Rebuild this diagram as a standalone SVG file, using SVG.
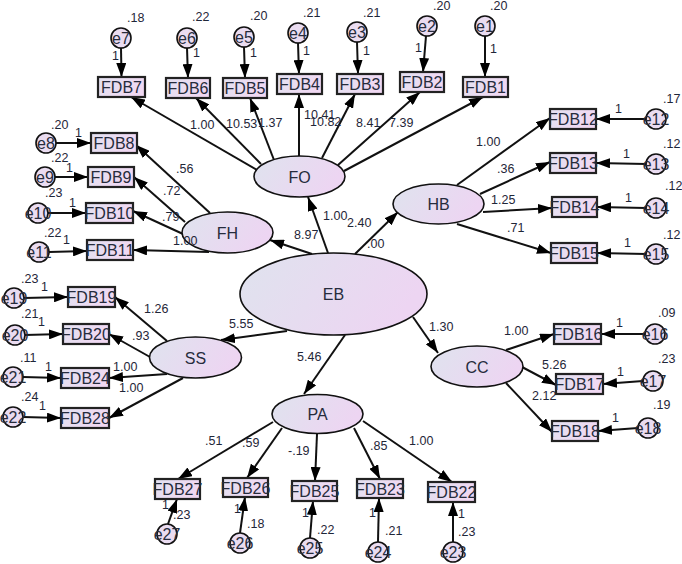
<svg xmlns="http://www.w3.org/2000/svg" width="682" height="564" viewBox="0 0 682 564">
<defs>
  <linearGradient id="latentFill" x1="0" y1="0" x2="1" y2="0.3">
    <stop offset="0" stop-color="#dfe3ee"/>
    <stop offset="1" stop-color="#edd5f2"/>
  </linearGradient>
  <linearGradient id="boxFill" x1="0" y1="0" x2="1" y2="0.3">
    <stop offset="0" stop-color="#e3e1f0"/>
    <stop offset="1" stop-color="#f0d8f2"/>
  </linearGradient>
  <marker id="arrow" markerUnits="userSpaceOnUse" markerWidth="15" markerHeight="10" refX="14" refY="5" orient="auto">
    <path d="M0,0 L14,5 L0,10 z" fill="#000"/>
  </marker>
</defs>
<style>
  .edge { stroke:#111; stroke-width:2; fill:none; marker-end:url(#arrow); }
  .lat ellipse { fill:url(#latentFill); stroke:#111; stroke-width:1.6; }
  .obs rect { fill:url(#boxFill); stroke:#222; stroke-width:2.2; }
  .err circle { fill:#eadcf1; stroke:#111; stroke-width:1.6; }
  text { font-family:"Liberation Sans", Arial, sans-serif; fill:#262c3c; }
  .lbl { font-size:16px; text-anchor:middle; }
  .num { font-size:12.5px; }
  .num text { fill:#1f2638; }
</style>
<rect width="682" height="564" fill="#fff"/>

<g id="connectors">
  <!-- error terms to indicators -->
  <line class="edge" x1="121" y1="48" x2="121.5" y2="77"/>
  <line class="edge" x1="187" y1="48" x2="188" y2="78"/>
  <line class="edge" x1="244" y1="47" x2="245" y2="78"/>
  <line class="edge" x1="298" y1="43" x2="299" y2="74"/>
  <line class="edge" x1="357" y1="42" x2="358" y2="74"/>
  <line class="edge" x1="426" y1="36" x2="423" y2="72"/>
  <line class="edge" x1="485" y1="36" x2="485" y2="77"/>
  <line class="edge" x1="56" y1="143" x2="91" y2="143"/>
  <line class="edge" x1="55" y1="177" x2="88" y2="177"/>
  <line class="edge" x1="48" y1="213" x2="86" y2="213"/>
  <line class="edge" x1="49" y1="252" x2="87" y2="251"/>
  <line class="edge" x1="646" y1="119" x2="596" y2="119"/>
  <line class="edge" x1="646" y1="164" x2="596" y2="163"/>
  <line class="edge" x1="646" y1="208" x2="597" y2="207"/>
  <line class="edge" x1="646" y1="254" x2="597" y2="253"/>
  <line class="edge" x1="645" y1="334" x2="601" y2="334"/>
  <line class="edge" x1="643" y1="381" x2="603" y2="384"/>
  <line class="edge" x1="638" y1="428" x2="598" y2="431"/>
  <line class="edge" x1="24" y1="298" x2="68" y2="297"/>
  <line class="edge" x1="25" y1="335" x2="63" y2="334"/>
  <line class="edge" x1="23" y1="377" x2="61" y2="378"/>
  <line class="edge" x1="23" y1="417" x2="61" y2="418"/>
  <line class="edge" x1="168" y1="524" x2="177" y2="499"/>
  <line class="edge" x1="240" y1="533" x2="245" y2="497"/>
  <line class="edge" x1="310" y1="538" x2="313" y2="501"/>
  <line class="edge" x1="378" y1="542" x2="379" y2="498"/>
  <line class="edge" x1="453" y1="542" x2="453" y2="502"/>
  <!-- FO loadings -->
  <line class="edge" x1="257" y1="170" x2="131" y2="97"/>
  <line class="edge" x1="261" y1="164" x2="196" y2="98"/>
  <line class="edge" x1="274" y1="160" x2="250" y2="98"/>
  <line class="edge" x1="299" y1="156" x2="299" y2="94"/>
  <line class="edge" x1="322" y1="158" x2="355" y2="94"/>
  <line class="edge" x1="338" y1="165" x2="420" y2="92"/>
  <line class="edge" x1="344" y1="171" x2="483" y2="97"/>
  <!-- FH loadings -->
  <line class="edge" x1="210" y1="213" x2="136" y2="145"/>
  <line class="edge" x1="185" y1="222" x2="134" y2="177"/>
  <line class="edge" x1="183" y1="234" x2="133" y2="211"/>
  <line class="edge" x1="209" y1="252" x2="133" y2="250"/>
  <!-- HB loadings -->
  <line class="edge" x1="457" y1="185" x2="550" y2="118"/>
  <line class="edge" x1="480" y1="194" x2="550" y2="162"/>
  <line class="edge" x1="483" y1="212" x2="552" y2="208"/>
  <line class="edge" x1="457" y1="224" x2="551" y2="253"/>
  <!-- SS loadings -->
  <line class="edge" x1="167" y1="341" x2="115" y2="297"/>
  <line class="edge" x1="150" y1="357" x2="109" y2="334"/>
  <line class="edge" x1="167" y1="374" x2="109" y2="378"/>
  <line class="edge" x1="183" y1="378" x2="109" y2="418"/>
  <!-- CC loadings -->
  <line class="edge" x1="506" y1="350" x2="554" y2="334"/>
  <line class="edge" x1="522" y1="367" x2="556" y2="385"/>
  <line class="edge" x1="506" y1="383" x2="552" y2="432"/>
  <!-- PA loadings -->
  <line class="edge" x1="273" y1="422" x2="178" y2="479"/>
  <line class="edge" x1="282" y1="428" x2="247" y2="478"/>
  <line class="edge" x1="317" y1="434" x2="315" y2="481"/>
  <line class="edge" x1="354" y1="428" x2="380" y2="479"/>
  <line class="edge" x1="363" y1="421" x2="452" y2="482"/>
  <!-- EB structural paths -->
  <line class="edge" x1="328" y1="253" x2="308" y2="197"/>
  <line class="edge" x1="312" y1="254" x2="270" y2="240"/>
  <line class="edge" x1="355" y1="254" x2="398" y2="212"/>
  <line class="edge" x1="287" y1="331" x2="221" y2="340"/>
  <line class="edge" x1="345" y1="335" x2="304" y2="394"/>
  <line class="edge" x1="413" y1="317" x2="438" y2="353"/>
</g>

<!-- latent variables -->
<g id="EB" class="lat"><ellipse cx="333.5" cy="294" rx="93.5" ry="41"/><text class="lbl" x="333.5" y="300">EB</text></g>
<g id="FO" class="lat"><ellipse cx="299.5" cy="176.5" rx="45.5" ry="20.5"/><text class="lbl" x="299.5" y="182.5">FO</text></g>
<g id="HB" class="lat"><ellipse cx="438.5" cy="204" rx="45.5" ry="20"/><text class="lbl" x="438.5" y="210">HB</text></g>
<g id="FH" class="lat"><ellipse cx="227.5" cy="232.5" rx="45.5" ry="20.5"/><text class="lbl" x="227.5" y="238.5">FH</text></g>
<g id="SS" class="lat"><ellipse cx="195.5" cy="357.5" rx="46" ry="20.5"/><text class="lbl" x="195.5" y="363.5">SS</text></g>
<g id="CC" class="lat"><ellipse cx="477" cy="366.5" rx="46" ry="20.5"/><text class="lbl" x="477" y="372.5">CC</text></g>
<g id="PA" class="lat"><ellipse cx="317.5" cy="414" rx="45.5" ry="19.5"/><text class="lbl" x="317.5" y="420">PA</text></g>

<!-- observed indicators -->
<g id="FDB7" class="obs"><rect x="98" y="77" width="47" height="20"/><text class="lbl" x="121.5" y="93">FDB7</text></g>
<g id="FDB6" class="obs"><rect x="166" y="78" width="44" height="20"/><text class="lbl" x="188" y="94">FDB6</text></g>
<g id="FDB5" class="obs"><rect x="223" y="78" width="44" height="20"/><text class="lbl" x="245" y="94">FDB5</text></g>
<g id="FDB4" class="obs"><rect x="277" y="74" width="45" height="20"/><text class="lbl" x="299.5" y="90">FDB4</text></g>
<g id="FDB3" class="obs"><rect x="337" y="74" width="46" height="20"/><text class="lbl" x="360" y="90">FDB3</text></g>
<g id="FDB2" class="obs"><rect x="400" y="72" width="44" height="20"/><text class="lbl" x="422" y="88">FDB2</text></g>
<g id="FDB1" class="obs"><rect x="463" y="77" width="45" height="20"/><text class="lbl" x="485.5" y="93">FDB1</text></g>
<g id="FDB8" class="obs"><rect x="91" y="133" width="46" height="20"/><text class="lbl" x="114" y="149">FDB8</text></g>
<g id="FDB9" class="obs"><rect x="88" y="167" width="46" height="20"/><text class="lbl" x="111" y="183">FDB9</text></g>
<g id="FDB10" class="obs"><rect x="86" y="203" width="47" height="20"/><text class="lbl" x="109.5" y="219">FDB10</text></g>
<g id="FDB11" class="obs"><rect x="87" y="240" width="46" height="20"/><text class="lbl" x="110" y="256">FDB11</text></g>
<g id="FDB12" class="obs"><rect x="550" y="109" width="46" height="20"/><text class="lbl" x="573" y="125">FDB12</text></g>
<g id="FDB13" class="obs"><rect x="550" y="153" width="46" height="20"/><text class="lbl" x="573" y="169">FDB13</text></g>
<g id="FDB14" class="obs"><rect x="552" y="197" width="45" height="20"/><text class="lbl" x="574.5" y="213">FDB14</text></g>
<g id="FDB15" class="obs"><rect x="551" y="243" width="46" height="20"/><text class="lbl" x="574" y="259">FDB15</text></g>
<g id="FDB16" class="obs"><rect x="554" y="324" width="47" height="20"/><text class="lbl" x="577.5" y="340">FDB16</text></g>
<g id="FDB17" class="obs"><rect x="556" y="374" width="47" height="20"/><text class="lbl" x="579.5" y="390">FDB17</text></g>
<g id="FDB18" class="obs"><rect x="552" y="421" width="46" height="20"/><text class="lbl" x="575" y="437">FDB18</text></g>
<g id="FDB19" class="obs"><rect x="68" y="287" width="47" height="20"/><text class="lbl" x="91.5" y="303">FDB19</text></g>
<g id="FDB20" class="obs"><rect x="63" y="324" width="46" height="20"/><text class="lbl" x="86" y="340">FDB20</text></g>
<g id="FDB24" class="obs"><rect x="61" y="368" width="48" height="20"/><text class="lbl" x="85" y="384">FDB24</text></g>
<g id="FDB28" class="obs"><rect x="61" y="408" width="48" height="20"/><text class="lbl" x="85" y="424">FDB28</text></g>
<g id="FDB27" class="obs"><rect x="155" y="479" width="45" height="20"/><text class="lbl" x="177.5" y="495">FDB27</text></g>
<g id="FDB26" class="obs"><rect x="223" y="478" width="45" height="19"/><text class="lbl" x="245.5" y="494">FDB26</text></g>
<g id="FDB25" class="obs"><rect x="292" y="481" width="45" height="20"/><text class="lbl" x="314.5" y="497">FDB25</text></g>
<g id="FDB23" class="obs"><rect x="357" y="479" width="46" height="19"/><text class="lbl" x="380" y="495">FDB23</text></g>
<g id="FDB22" class="obs"><rect x="428" y="482" width="47" height="20"/><text class="lbl" x="451.5" y="498">FDB22</text></g>

<!-- error terms -->
<g id="e7" class="err"><circle cx="121" cy="38" r="10"/><text class="lbl" x="121" y="44">e7</text></g>
<g id="e6" class="err"><circle cx="187" cy="38" r="10"/><text class="lbl" x="187" y="44">e6</text></g>
<g id="e5" class="err"><circle cx="244" cy="37" r="10"/><text class="lbl" x="244" y="43">e5</text></g>
<g id="e4" class="err"><circle cx="298" cy="33" r="10"/><text class="lbl" x="298" y="39">e4</text></g>
<g id="e3" class="err"><circle cx="357" cy="32" r="10"/><text class="lbl" x="357" y="38">e3</text></g>
<g id="e2" class="err"><circle cx="427" cy="26" r="10"/><text class="lbl" x="427" y="32">e2</text></g>
<g id="e1" class="err"><circle cx="485" cy="26" r="10"/><text class="lbl" x="485" y="32">e1</text></g>
<g id="e8" class="err"><circle cx="46" cy="143" r="10"/><text class="lbl" x="46" y="149">e8</text></g>
<g id="e9" class="err"><circle cx="45" cy="177" r="10"/><text class="lbl" x="45" y="183">e9</text></g>
<g id="e10" class="err"><circle cx="38" cy="213" r="10"/><text class="lbl" x="38" y="219">e10</text></g>
<g id="e11" class="err"><circle cx="39" cy="252" r="10"/><text class="lbl" x="39" y="258">e11</text></g>
<g id="e12" class="err"><circle cx="656" cy="119" r="10"/><text class="lbl" x="656" y="125">e12</text></g>
<g id="e13" class="err"><circle cx="656" cy="164" r="10"/><text class="lbl" x="656" y="170">e13</text></g>
<g id="e14" class="err"><circle cx="656" cy="208" r="10"/><text class="lbl" x="656" y="214">e14</text></g>
<g id="e15" class="err"><circle cx="656" cy="254" r="10"/><text class="lbl" x="656" y="260">e15</text></g>
<g id="e16" class="err"><circle cx="655" cy="334" r="10"/><text class="lbl" x="655" y="340">e16</text></g>
<g id="e17" class="err"><circle cx="653" cy="381" r="10"/><text class="lbl" x="653" y="387">e17</text></g>
<g id="e18" class="err"><circle cx="648" cy="428" r="10"/><text class="lbl" x="648" y="434">e18</text></g>
<g id="e19" class="err"><circle cx="14" cy="298" r="10"/><text class="lbl" x="14" y="304">e19</text></g>
<g id="e20" class="err"><circle cx="15" cy="335" r="10"/><text class="lbl" x="15" y="341">e20</text></g>
<g id="e21" class="err"><circle cx="13" cy="377" r="10"/><text class="lbl" x="13" y="383">e21</text></g>
<g id="e22" class="err"><circle cx="13" cy="417" r="10"/><text class="lbl" x="13" y="423">e22</text></g>
<g id="e27" class="err"><circle cx="167" cy="534" r="10"/><text class="lbl" x="167" y="540">e27</text></g>
<g id="e26" class="err"><circle cx="240" cy="543" r="10"/><text class="lbl" x="240" y="549">e26</text></g>
<g id="e25" class="err"><circle cx="310" cy="548" r="10"/><text class="lbl" x="310" y="554">e25</text></g>
<g id="e24" class="err"><circle cx="378" cy="552" r="10"/><text class="lbl" x="378" y="558">e24</text></g>
<g id="e23" class="err"><circle cx="453" cy="552" r="10"/><text class="lbl" x="453" y="558">e23</text></g>

<!-- estimates on paths, drawn above the shapes -->
<g id="path-values" class="num">
  <text x="190" y="129">1.00</text>
  <text x="226" y="128">10.53</text>
  <text x="258" y="127">1.37</text>
  <text x="304" y="119">10.41</text>
  <text x="310" y="126">10.82</text>
  <text x="356" y="127">8.41</text>
  <text x="389" y="127">7.39</text>
  <text x="176" y="173">.56</text>
  <text x="163" y="195">.72</text>
  <text x="162" y="221">.79</text>
  <text x="173" y="245">1.00</text>
  <text x="294" y="239">8.97</text>
  <text x="323" y="220">1.00</text>
  <text x="347" y="227">2.40</text>
  <text x="367" y="248">.00</text>
  <text x="476" y="146">1.00</text>
  <text x="497" y="173">.36</text>
  <text x="491" y="204">1.25</text>
  <text x="507" y="232">.71</text>
  <text x="429" y="331">1.30</text>
  <text x="504" y="335">1.00</text>
  <text x="542" y="369">5.26</text>
  <text x="532" y="400">2.12</text>
  <text x="144" y="313">1.26</text>
  <text x="132" y="340">.93</text>
  <text x="113" y="371">1.00</text>
  <text x="119" y="392">1.00</text>
  <text x="229" y="328">5.55</text>
  <text x="297" y="361">5.46</text>
  <text x="205" y="445">.51</text>
  <text x="242" y="447">.59</text>
  <text x="288" y="455">-.19</text>
  <text x="370" y="450">.85</text>
  <text x="409" y="445">1.00</text>
  <!-- fixed error weights -->
  <text x="112" y="60">1</text>
  <text x="193" y="57">1</text>
  <text x="250" y="57">1</text>
  <text x="303" y="55">1</text>
  <text x="363" y="55">1</text>
  <text x="415" y="52">1</text>
  <text x="490" y="53">1</text>
  <text x="75" y="137">1</text>
  <text x="66" y="172">1</text>
  <text x="69" y="207">1</text>
  <text x="63" y="244">1</text>
  <text x="615" y="113">1</text>
  <text x="623" y="158">1</text>
  <text x="625" y="202">1</text>
  <text x="624" y="247">1</text>
  <text x="616" y="327">1</text>
  <text x="617" y="376">1</text>
  <text x="612" y="422">1</text>
  <text x="41" y="291">1</text>
  <text x="38" y="326">1</text>
  <text x="45" y="371">1</text>
  <text x="39" y="410">1</text>
  <text x="162" y="509">1</text>
  <text x="234" y="513">1</text>
  <text x="302" y="517">1</text>
  <text x="369" y="517">1</text>
  <text x="458" y="518">1</text>
  <!-- error variances -->
  <text x="127" y="22">.18</text>
  <text x="192" y="21">.22</text>
  <text x="250" y="20">.20</text>
  <text x="303" y="17">.21</text>
  <text x="363" y="17">.21</text>
  <text x="433" y="10">.20</text>
  <text x="490" y="10">.20</text>
  <text x="51" y="129">.20</text>
  <text x="51" y="162">.22</text>
  <text x="45" y="197">.23</text>
  <text x="44" y="237">.22</text>
  <text x="663" y="103">.17</text>
  <text x="663" y="148">.12</text>
  <text x="665" y="190">.12</text>
  <text x="663" y="239">.12</text>
  <text x="658" y="317">.09</text>
  <text x="658" y="363">.23</text>
  <text x="653" y="409">.19</text>
  <text x="21" y="283">.23</text>
  <text x="21" y="318">.21</text>
  <text x="20" y="362">.11</text>
  <text x="21" y="401">.24</text>
  <text x="173" y="519">.23</text>
  <text x="247" y="528">.18</text>
  <text x="317" y="534">.22</text>
  <text x="385" y="535">.21</text>
  <text x="458" y="536">.23</text>
</g>
</svg>
